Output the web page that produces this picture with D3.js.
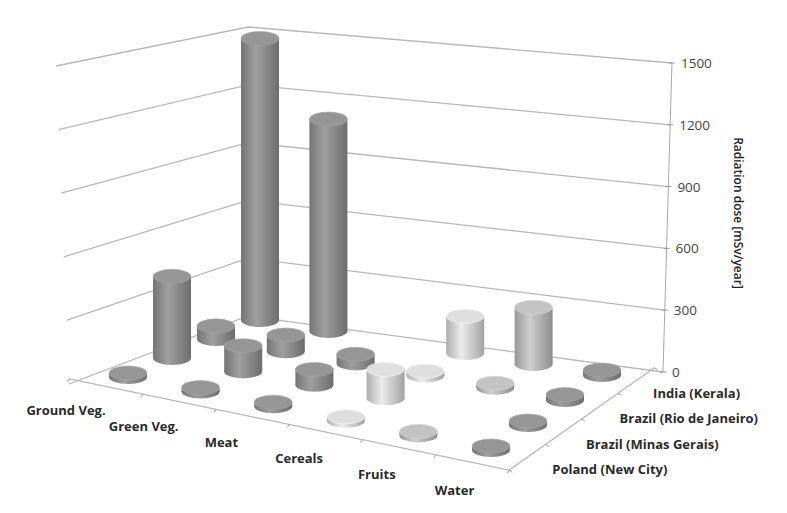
<!DOCTYPE html>
<html><head><meta charset="utf-8">
<script src="https://cdn.jsdelivr.net/npm/d3@7"></script>
<style>body{margin:0;background:#fff}</style>
</head><body><svg id="c" width="787" height="513"></svg>
<script>
const categories = ["Ground Veg.","Green Veg.","Meat","Cereals","Fruits","Water"];
const series = ["Poland (New City)","Brazil (Minas Gerais)","Brazil (Rio de Janeiro)","India (Kerala)"];
const polandValues = [5,5,5,5,5,5];
const minasValues  = [380,110,60,125,null,5];
const rioValues    = [50,65,30,8,8,12];
const keralaValues = [1400,1050,null,170,270,10];
const yTicks = [0,300,600,900,1200,1500];
const catShade = ["#8c8c8c","#8c8c8c","#8c8c8c","#d0d0d0","#b6b6b6","#8c8c8c"];

const values = [polandValues, minasValues, rioValues, keralaValues];
const svg = d3.select("#c");

const iS = d3.scaleLinear().domain([0,5]).range([0,1]);
const jS = d3.scaleLinear().domain([0,3]).range([0,1]);
const frontX = d3.scaleLinear().domain([0,1]).range([128,491]);
const frontY = d3.scaleLinear().domain([0,1]).range([377,450]);
const backX = d3.scaleLinear().domain([0,1]).range([260,602]);
const backY = d3.scaleLinear().domain([0,1]).range([320,375]);
function floor(i,j){
  const u=iS(i), v=jS(j);
  const fx=frontX(u), fy=frontY(u), bx=backX(u), by=backY(u);
  return [fx+(bx-fx)*v, fy+(by-fy)*v];
}
const kS = d3.scaleLinear().domain([-0.5,3.5]).range([0.213,0.197]);
const yMax = 1500;

const L=[69,384], B=[248,316], R=[663,372];
const hL=d3.scaleLinear().domain([0,yMax]).range([0,318]);
const hB=d3.scaleLinear().domain([0,yMax]).range([0,289]);
const hR=d3.scaleLinear().domain([0,yMax]).range([0,309]);
const g = svg.append("g");
yTicks.forEach(t=>{
  const pL=[L[0]-hL(t)*0.041, L[1]-hL(t)];
  const pB=[B[0], B[1]-hB(t)];
  const pR=[R[0]+hR(t)*0.029, R[1]-hR(t)];
  g.append("polyline").attr("points",[pL,pB,pR].map(p=>p.join(",")).join(" "))
   .attr("fill","none").attr("stroke","#b8b8b8").attr("stroke-width",1.3);
});
g.append("line").attr("x1",R[0]).attr("y1",R[1]).attr("x2",R[0]+hR(yMax)*0.029).attr("y2",R[1]-hR(yMax))
 .attr("stroke","#a8a8a8");
yTicks.forEach(t=>{
  const x=R[0]+hR(t)*0.029, y=R[1]-hR(t);
  g.append("line").attr("x1",x-3).attr("x2",x+3).attr("y1",y).attr("y2",y).attr("stroke","#999");
  g.append("text").attr("x",x+9).attr("y",y+5).text(t)
   .attr("font-family","Open Sans, sans-serif").attr("font-size",13.5).attr("fill","#444");
});
svg.append("text").attr("transform","translate(734,213) rotate(90)").attr("text-anchor","middle")
 .text("Radiation dose [mSv/year]").attr("font-family","Open Sans, sans-serif")
 .attr("font-size",12).attr("font-weight","600").attr("fill","#222");

const Lc=floor(-0.5,-0.5), Fc=floor(5.5,-0.5), Rc=floor(5.5,3.5);
g.append("polyline").attr("points",[Lc,Fc,Rc].map(p=>p.join(",")).join(" "))
 .attr("fill","none").attr("stroke","#b8b8b8").attr("stroke-width",1.3);
d3.range(-0.5,6,1).forEach(i=>{const p=floor(i,-0.5);
  g.append("line").attr("x1",p[0]).attr("y1",p[1]).attr("x2",p[0]-2).attr("y2",p[1]+3).attr("stroke","#999");});
d3.range(-0.5,4,1).forEach(j=>{const p=floor(5.5,j);
  g.append("line").attr("x1",p[0]).attr("y1",p[1]).attr("x2",p[0]+3).attr("y2",p[1]+2).attr("stroke","#999");});

categories.forEach((c,i)=>{const p=floor(i,-0.5);
  svg.append("text").attr("x",p[0]-40+i*4.4).attr("y",p[1]+28+i*0.8).attr("text-anchor","middle").text(c)
   .attr("font-family","Open Sans, sans-serif").attr("font-size",13).attr("font-weight","700").attr("fill","#2a2a2a");});
series.forEach((s,j)=>{const p=floor(5.5,j);
  svg.append("text").attr("x",p[0]+25-j*2.7).attr("y",p[1]+17).text(s)
   .attr("font-family","Open Sans, sans-serif").attr("font-size",13).attr("font-weight","700").attr("fill","#2a2a2a");});

const defs=svg.append("defs");
catShade.forEach((c,i)=>{
  const col=d3.color(c);
  const gr=defs.append("linearGradient").attr("id","g"+i);
  gr.append("stop").attr("offset","0%").attr("stop-color",col.darker(0.5));
  gr.append("stop").attr("offset","40%").attr("stop-color",col.brighter(0.35));
  gr.append("stop").attr("offset","100%").attr("stop-color",col.darker(0.7));
});
const marks=[];
values.forEach((arr,j)=>arr.forEach((v,i)=>{ if(v!=null){const p=floor(i,j); marks.push({i,j,v,x:p[0],y:p[1]});}}));
marks.sort((a,b)=>a.y-b.y);
const rx=19, ry=7;
marks.forEach(m=>{
  const h=m.v*kS(m.j)+3;
  const col=d3.color(catShade[m.i]);
  const gg=svg.append("g");
  gg.append("ellipse").attr("cx",m.x).attr("cy",m.y).attr("rx",rx).attr("ry",ry).attr("fill",`url(#g${m.i})`);
  gg.append("rect").attr("x",m.x-rx).attr("y",m.y-h).attr("width",2*rx).attr("height",h).attr("fill",`url(#g${m.i})`);
  gg.append("ellipse").attr("cx",m.x).attr("cy",m.y-h).attr("rx",rx).attr("ry",ry)
    .attr("fill",col.brighter(0.2)).attr("stroke",col.brighter(0.5)).attr("stroke-width",0.6);
});
</script></body></html>
